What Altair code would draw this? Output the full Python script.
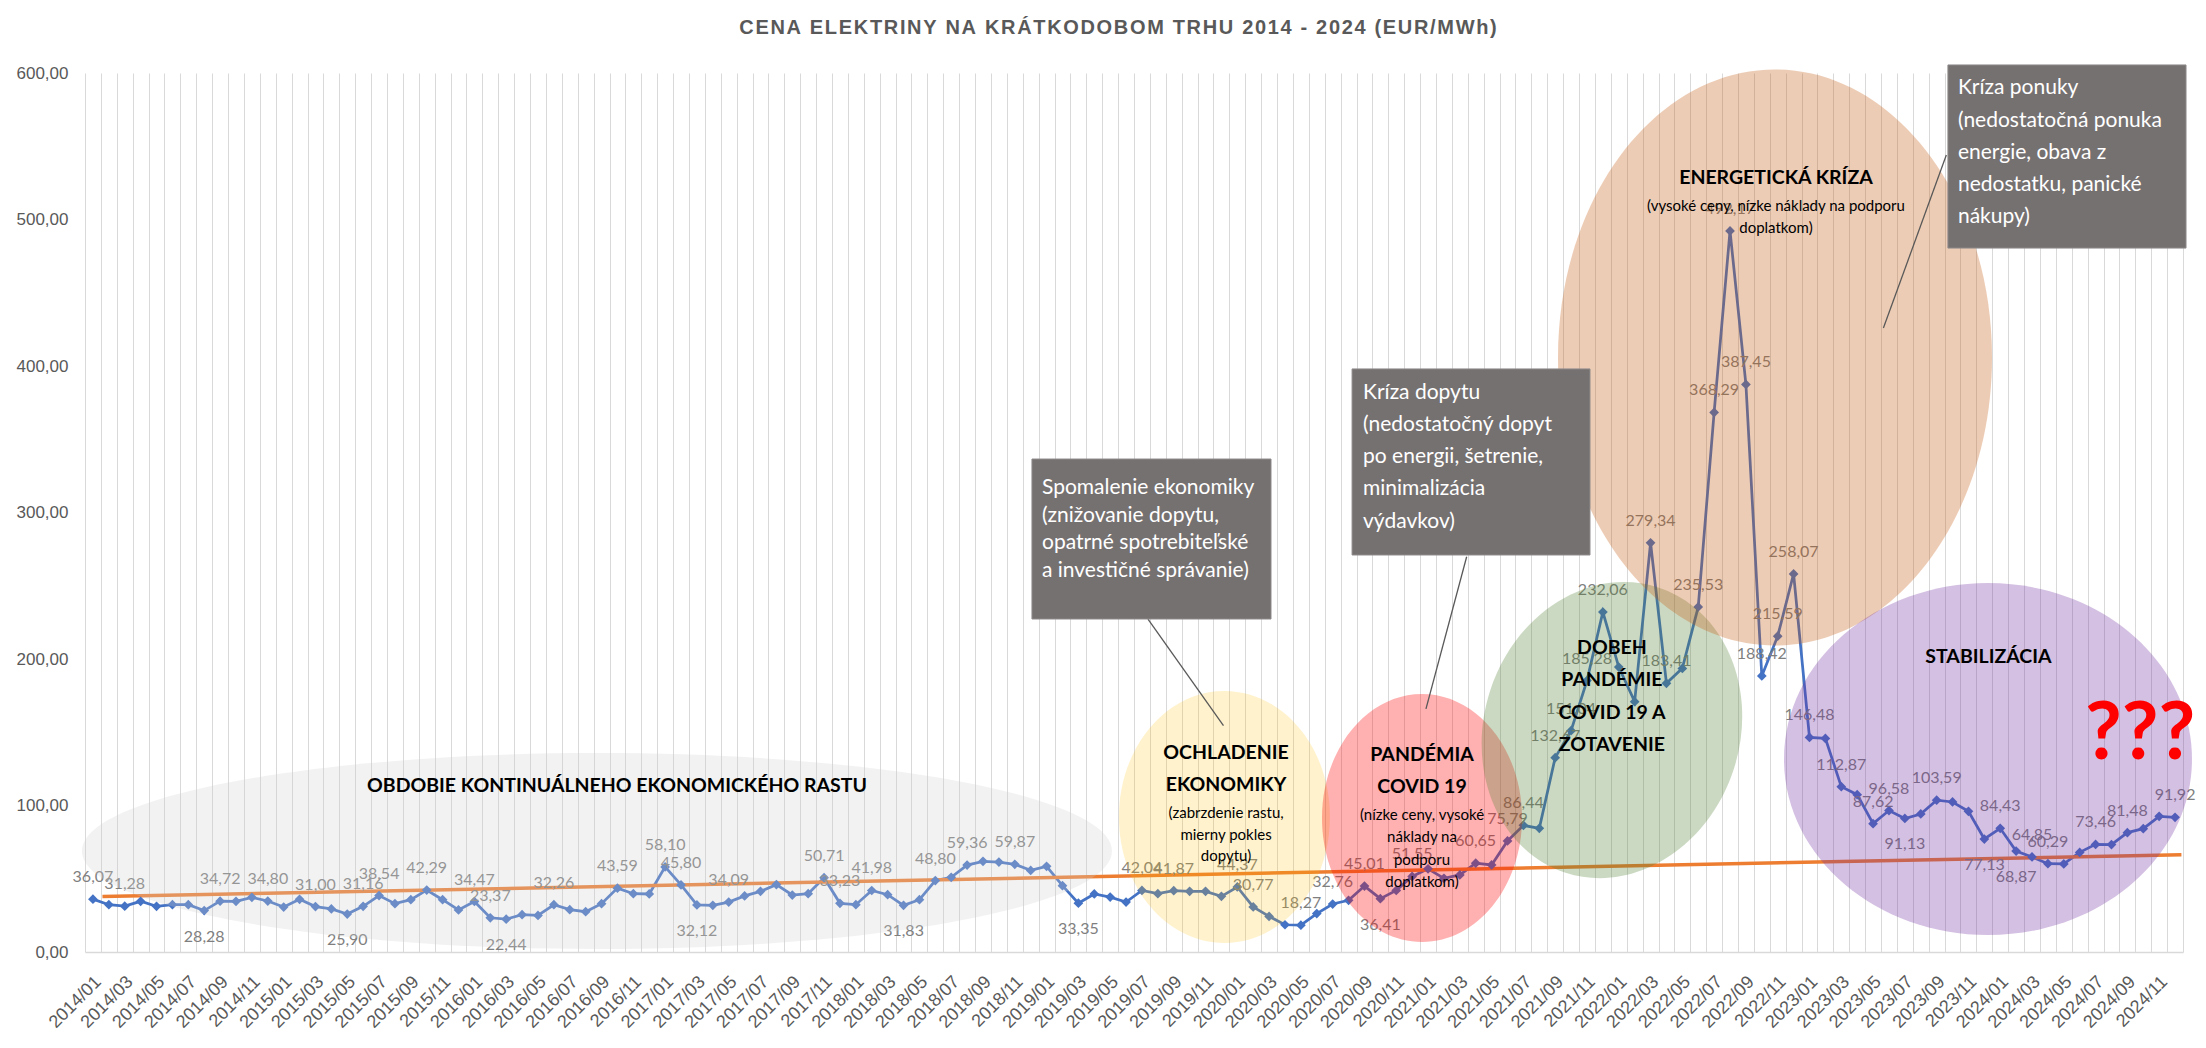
import json
import altair as alt
import pandas as pd

# ---------------- data ----------------
months = [f"{y}/{m:02d}" for y in range(2014, 2025) for m in range(1, 13)]

prices = [
    36.07, 32.30, 31.28, 34.60, 31.20, 32.30, 32.30, 28.28, 34.72, 34.60, 37.30, 34.80,   # 2014
    30.70, 36.00, 31.00, 29.40, 25.90, 31.16, 38.54, 33.00, 35.70, 42.29, 35.70, 28.70,   # 2015
    34.47, 23.37, 22.44, 25.50, 25.00, 32.26, 28.90, 27.50, 33.00, 43.59, 39.80, 39.60,   # 2016
    58.10, 45.80, 32.12, 31.90, 34.09, 38.30, 41.40, 46.00, 38.90, 39.80, 50.71, 33.23,   # 2017
    32.30, 41.98, 39.10, 31.83, 35.70, 48.80, 51.00, 59.36, 61.90, 61.40, 59.87, 55.70,   # 2018
    58.50, 45.30, 33.35, 39.60, 37.50, 34.10, 42.04, 39.80, 41.87, 41.40, 41.40, 38.00,   # 2019
    44.37, 30.77, 24.30, 18.60, 18.27, 26.20, 32.76, 35.30, 45.01, 36.41, 42.00, 51.55,   # 2020
    56.80, 50.30, 52.60, 60.65, 59.40, 75.79, 86.44, 84.40, 132.67, 151.04, 185.28, 232.06,  # 2021
    194.50, 170.90, 279.34, 183.41, 193.60, 235.53, 368.29, 492.17, 387.45, 188.42, 215.59, 258.07,  # 2022
    146.48, 145.80, 112.87, 107.40, 87.62, 96.58, 91.13, 94.20, 103.59, 102.40, 96.00, 77.13,  # 2023
    84.43, 68.87, 64.85, 60.29, 60.10, 68.00, 73.46, 73.30, 81.48, 84.20, 92.60, 91.92,   # 2024
]

labels_above = [0, 2, 8, 11, 14, 17, 18, 21, 24, 25, 29, 33, 36, 37, 40, 46, 47, 49, 53, 55, 58,
                66, 68, 72, 73, 76, 78, 80, 83, 87, 89, 90, 92, 93, 94, 95, 98, 99, 101, 102, 103,
                104, 105, 106, 107, 108, 110, 112, 113, 116, 120, 122, 123, 126, 128, 131]
labels_below = [7, 16, 26, 38, 51, 62, 81, 114, 119, 121]

trend_idx = [0.6, 131.4]
trend_val = [37.8, 66.4]

TITLE = "CENA ELEKTRINY NA KRÁTKODOBOM TRHU 2014 - 2024 (EUR/MWh)"

# ---------------- annotations ----------------
ell_name = ["rast", "ochladenie", "pandemia", "dobeh", "kriza", "stabilizacia"]
ell_cx = [31.71, 71.19, 83.62, 95.57, 105.83, 119.23]
ell_cy = [68.9, 92.2, 91.5, 151.5, 405.8, 131.7]
ell_rx = [515, 105.5, 100, 128, 217, 204]
ell_ry = [98, 126, 124, 150, 288, 176]
ell_ang = [0, 0, 0, 18, 0, 0]
ell_fill = ["#cfcfcf", "#FFC000", "#FF0000", "#548235", "#C55A11", "#7030A0"]
ell_op = [0.28, 0.2, 0.31, 0.3, 0.31, 0.3]

bold_text = ["OBDOBIE KONTINUÁLNEHO EKONOMICKÉHO RASTU", "OCHLADENIE", "EKONOMIKY",
             "PANDÉMIA", "COVID 19", "DOBEH", "PANDÉMIE", "COVID 19 A", "ZOTAVENIE",
             "ENERGETICKÁ KRÍZA", "STABILIZÁCIA"]
bold_x = [32.97, 71.29, 71.29, 83.62, 83.62, 95.57, 95.57, 95.57, 95.57, 105.89, 119.26]
bold_y = [113.3, 135.8, 114.0, 134.5, 112.6, 207.5, 185.7, 163.1, 141.3, 528.3, 201.4]

small_text = ["(zabrzdenie rastu,", "mierny pokles", "dopytu)",
              "(nízke ceny, vysoké", "náklady na", "podporu", "doplatkom)",
              "(vysoké ceny, nízke náklady na podporu", "doplatkom)"]
small_x = [71.29, 71.29, 71.29, 83.62, 83.62, 83.62, 83.62, 105.89, 105.89]
small_y = [94.9, 79.9, 65.5, 93.5, 78.5, 62.8, 47.8, 509.2, 494.2]

box_x1 = [59.08, 79.22, 116.71]
box_x2 = [74.12, 94.19, 131.69]
box_y1 = [336.5, 398.0, 605.5]
box_y2 = [227.3, 271.0, 480.5]

box_lines = [
    ["Spomalenie ekonomiky", "(znižovanie dopytu,", "opatrné spotrebiteľské", "a investičné správanie)"],
    ["Kríza dopytu", "(nedostatočný dopyt", "po energii, šetrenie,", "minimalizácia", "výdavkov)"],
    ["Kríza ponuky", "(nedostatočná ponuka", "energie, obava z", "nedostatku, panické", "nákupy)"],
]
box_text_x = [59.71, 79.91, 117.34]
box_line_y = [
    [316.9, 297.8, 279.2, 260.3],
    [381.4, 359.7, 338.1, 316.0, 293.7],
    [589.6, 567.5, 545.2, 523.5, 501.9],
]

call_x1 = [66.38, 86.43, 116.61]
call_y1 = [227.3, 269.8, 544.0]
call_x2 = [71.13, 83.87, 112.65]
call_y2 = [154.5, 165.9, 425.9]

q_x, q_y = 128.8, 148.1

# ---------------- styling ----------------
FONT = "Lato"
AXFONT = "Liberation Sans"
BLUE = "#4472C4"
ORANGE = "#ED7D31"

# ---------------- frames ----------------
df = pd.DataFrame({"idx": list(range(len(prices))), "month": months, "price": prices})
df["lab"] = [f"{v:.2f}".replace(".", ",") for v in prices]
above_df = df[df["idx"].isin(labels_above)]
below_df = df[df["idx"].isin(labels_below)]
trend_df = pd.DataFrame({"idx": trend_idx, "price": trend_val})


def ellipse_path(rx, ry):
    if rx >= ry:
        q = ry / rx
        return f"M-1,0A1,{q:.4f},0,1,1,1,0A1,{q:.4f},0,1,1,-1,0Z", (2 * rx) ** 2
    p = rx / ry
    return f"M0,-1A{p:.4f},1,0,1,1,0,1A{p:.4f},1,0,1,1,0,-1Z", (2 * ry) ** 2


ell_rows = []
for n, cx, cy, rx, ry, a, f, o in zip(ell_name, ell_cx, ell_cy, ell_rx, ell_ry, ell_ang, ell_fill, ell_op):
    path, size = ellipse_path(rx, ry)
    ell_rows.append({"name": n, "idx": cx, "price": cy, "shape": path, "size": size,
                     "ang": a, "fill": f, "op": o})
ell_df = pd.DataFrame(ell_rows)

bold_df = pd.DataFrame({"idx": bold_x, "price": bold_y, "t": bold_text})
small_df = pd.DataFrame({"idx": small_x, "price": small_y, "t": small_text})
box_df = pd.DataFrame({"idx": box_x1, "x2": box_x2, "price": box_y1, "y2": box_y2})
bt_rows = []
for lines, bx, ys in zip(box_lines, box_text_x, box_line_y):
    for t, yy in zip(lines, ys):
        bt_rows.append({"idx": bx, "price": yy, "t": t})
bt_df = pd.DataFrame(bt_rows)
call_df = pd.DataFrame({"idx": call_x1, "x2": call_x2, "price": call_y1, "y2": call_y2})
q_df = pd.DataFrame({"idx": [q_x], "price": [q_y], "t": ["???"]})

# ---------------- scales / axes ----------------
xscale = alt.Scale(domain=[-0.5, 131.5], nice=False, zero=False)
yscale = alt.Scale(domain=[0, 600], nice=False, zero=True)

months_js = json.dumps(months)
x_axis = alt.Axis(
    values=[k - 0.5 for k in range(133)],
    grid=True, gridColor="#d9d9d9", gridWidth=1,
    ticks=False, tickSize=0,
    domain=True, domainColor="#d9d9d9", domainWidth=1.5,
    labelExpr=f"(datum.value < 131 && (datum.value + 0.5) % 2 == 0) ? {months_js}[datum.value + 0.5] : ''",
    labelAngle=-45, labelAlign="right", labelBaseline="middle",
    labelOffset=13, labelPadding=27,
    labelFont=AXFONT, labelFontSize=18, labelColor="#595959",
    labelOverlap=False, labelFlush=False, title=None,
)
y_axis = alt.Axis(
    values=list(range(0, 601, 100)),
    labelExpr="replace(format(datum.value, '.2f'), '.', ',')",
    grid=False, domain=False, ticks=False, tickSize=0,
    labelPadding=17, labelFont=AXFONT, labelFontSize=17, labelColor="#595959", title=None,
)

X = alt.X("idx:Q", scale=xscale, axis=x_axis)
Y = alt.Y("price:Q", scale=yscale, axis=y_axis)

line = alt.Chart(df).mark_line(color=BLUE, strokeWidth=2.75).encode(x=X, y=Y)
pts = alt.Chart(df).mark_point(shape="diamond", filled=True, size=95, opacity=1, color=BLUE).encode(x=X, y=Y)
trend = alt.Chart(trend_df).mark_line(color=ORANGE, strokeWidth=3.5).encode(x=X, y=Y)

lab_up = alt.Chart(above_df).mark_text(font=FONT, fontSize=16, color="#7f7f7f", dy=-22).encode(
    x=X, y=Y, text="lab:N")
lab_dn = alt.Chart(below_df).mark_text(font=FONT, fontSize=16, color="#7f7f7f", dy=26).encode(
    x=X, y=Y, text="lab:N")

ellipses = alt.Chart(ell_df).mark_point(filled=True, opacity=1, strokeWidth=0).encode(
    x=X, y=Y,
    shape=alt.Shape("shape:N", scale=None),
    size=alt.Size("size:Q", scale=None),
    angle=alt.Angle("ang:Q", scale=None),
    fill=alt.Fill("fill:N", scale=None),
    fillOpacity=alt.FillOpacity("op:Q", scale=None),
)

bold = alt.Chart(bold_df).mark_text(font=FONT, fontSize=19.5, fontWeight="bold", color="#000000").encode(
    x=X, y=Y, text="t:N")
small = alt.Chart(small_df).mark_text(font=FONT, fontSize=15, color="#000000").encode(
    x=X, y=Y, text="t:N")

calls = alt.Chart(call_df).mark_rule(color="#595959", strokeWidth=1.3).encode(
    x=X, x2="x2:Q", y=Y, y2="y2:Q")
boxes = alt.Chart(box_df).mark_rect(fill="#767171", stroke="#8f8b8b", strokeWidth=1).encode(
    x=X, x2="x2:Q", y=Y, y2="y2:Q")
btext = alt.Chart(bt_df).mark_text(font=FONT, fontSize=21, color="#ffffff", align="left").encode(
    x=X, y=Y, text="t:N")
qmarks = alt.Chart(q_df).mark_text(font=FONT, fontSize=80, fontWeight="bold", color="#FF0000").encode(
    x=X, y=Y, text="t:N")

title_spaced = "\u200a".join(TITLE)

chart = alt.layer(
    line, trend, pts, lab_up, lab_dn, ellipses, bold, small, calls, boxes, btext, qmarks
).properties(
    width=2098, height=879,
    title=alt.TitleParams(text=title_spaced, font=AXFONT, fontSize=20, fontWeight="bold",
                          color="#595959", anchor="middle", dx=-16, offset=26, frame="group"),
    autosize=alt.AutoSizeParams(type="none"),
    padding={"left": 77, "top": 65, "right": 15, "bottom": 80},
    background="#ffffff",
).configure_view(stroke=None)

chart.save("out.html", embed_options={"renderer": "svg", "actions": False})
